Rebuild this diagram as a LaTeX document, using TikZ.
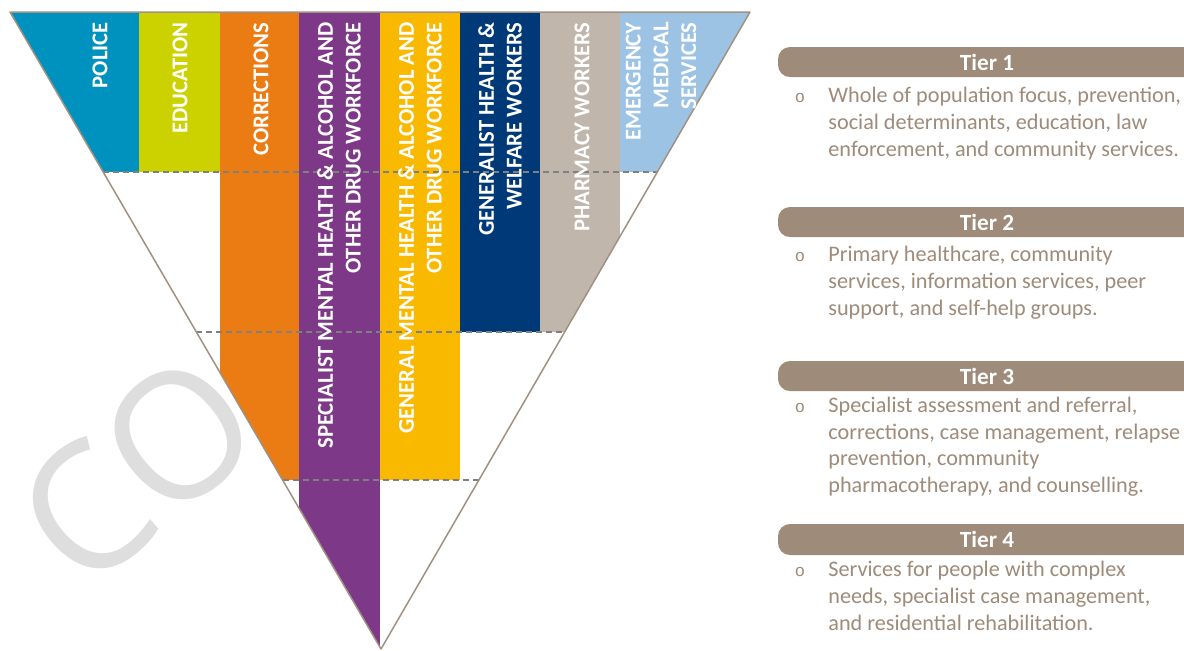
\documentclass[tikz,border=0pt]{standalone}
\usepackage{fontspec}
\setmainfont{Carlito}
\newfontfamily\wmfont{Open Sans}
\newfontfamily\bulfont{Liberation Mono}
\usetikzlibrary{calc}
\definecolor{cpolice}{RGB}{0,146,190}
\definecolor{cedu}{RGB}{204,210,0}
\definecolor{ccorr}{RGB}{235,124,19}
\definecolor{cspec}{RGB}{125,56,136}
\definecolor{cgen}{RGB}{249,185,0}
\definecolor{cgnl}{RGB}{0,57,120}
\definecolor{cpha}{RGB}{192,182,172}
\definecolor{cems}{RGB}{157,195,228}
\definecolor{tierc}{RGB}{158,139,122}
\definecolor{edgec}{RGB}{160,145,130}
\definecolor{dashc}{RGB}{128,128,128}
\definecolor{wmc}{RGB}{222,222,222}
\begin{document}
\begin{tikzpicture}[x=0.5pt,y=-0.5pt,
  colt/.style={rotate=90, anchor=east, align=right, inner sep=0pt, text=white,
    font=\bfseries\fontsize{11.3}{13.9}\selectfont},
  tierbar/.style={fill=tierc, rounded corners=6pt},
  tierlab/.style={inner sep=0pt, text=white, font=\bfseries\fontsize{11.6}{13}\selectfont},
  body/.style={anchor=base west, inner sep=0pt, text=tierc, font=\fontsize{11.1}{13.5}\selectfont},
  bullet/.style={anchor=base, inner sep=0pt, text=tierc, font=\bulfont\fontsize{8.5}{10}\selectfont},
  tierline/.style={draw=dashc, line width=0.75pt, dash pattern=on 3pt off 2pt},
  edge/.style={draw=edgec, line width=0.75pt, line join=round}]
\useasboundingbox (0,0) rectangle (1184,650);
\fill[white] (0,0) rectangle (1184,650);
% watermark
\node[rotate=40, inner sep=0pt, text=wmc, font=\wmfont\fontsize{88}{88}\selectfont] (wm) at (137,470) {CO};
% triangle corners
\coordinate (A) at (10,12);
\coordinate (B) at (750,12);
\coordinate (P) at (381,649);
% columns
\begin{scope}
\clip (A) -- (B) -- (P) -- cycle;
\fill[cpolice] (0,0) rectangle (139,172);
\fill[cedu] (139,0) rectangle (220,172);
\fill[ccorr] (220,0) rectangle (299,480);
\fill[cspec] (299,0) rectangle (380,660);
\fill[cgen] (380,0) rectangle (460,480);
\fill[cgnl] (460,0) rectangle (540,332);
\fill[cpha] (540,0) rectangle (620,332);
\fill[cems] (620,0) rectangle (760,172);
\end{scope}
% tier separators
\coordinate (L1) at ($(A)!0.2512!(P)$);
\coordinate (R1) at ($(B)!0.2512!(P)$);
\coordinate (L2) at ($(A)!0.5024!(P)$);
\coordinate (R2) at ($(B)!0.5024!(P)$);
\coordinate (L3) at ($(A)!0.7347!(P)$);
\coordinate (R3) at ($(B)!0.7347!(P)$);
\draw[tierline] (L1) -- (R1);
\draw[tierline] (L2) -- (R2);
\draw[tierline] (L3) -- (R3);
% outline
\draw[edge] (A) -- (B) -- (P) -- cycle;
% column labels
\node[colt] (tpol) at (100,22) {POLICE};
\node[colt] (tedu) at (180,22) {EDUCATION};
\node[colt] (tcor) at (261,22) {CORRECTIONS};
\node[colt] (tspe) at (339,22) {SPECIALIST MENTAL HEALTH \& ALCOHOL AND\\OTHER DRUG WORKFORCE};
\node[colt] (tgen) at (420,22) {GENERAL MENTAL HEALTH \& ALCOHOL AND\\OTHER DRUG WORKFORCE};
\node[colt] (tgnl) at (500,22) {GENERALIST HEALTH \&\\WELFARE WORKERS};
\node[colt] (tpha) at (582,22) {PHARMACY WORKERS};
\node[colt] (tems) at (661,22) {EMERGENCY\\MEDICAL\\SERVICES};
% tier bars
\fill[tierbar] (1200,47) -- (778,47) -- (778,77) -- (1200,77) -- cycle;
\fill[tierbar] (1200,207) -- (778,207) -- (778,237) -- (1200,237) -- cycle;
\fill[tierbar] (1200,361) -- (778,361) -- (778,391) -- (1200,391) -- cycle;
\fill[tierbar] (1200,524) -- (778,524) -- (778,555) -- (1200,555) -- cycle;
\node[tierlab] (tl1) at (987,62) {Tier 1};
\node[tierlab] (tl2) at (987,222) {Tier 2};
\node[tierlab] (tl3) at (987,376) {Tier 3};
\node[tierlab] (tl4) at (987,539.5) {Tier 4};
% tier 1 text
\node[bullet] (b1) at (800,102) {o};
\node[body] (t1a) at (828,102) {Whole of population focus, prevention,};
\node[body] (t1b) at (828,129) {social determinants, education, law};
\node[body] (t1c) at (828,156) {enforcement, and community services.};
% tier 2 text
\node[bullet] (b2) at (800,261) {o};
\node[body] (t2a) at (828,261) {Primary healthcare, community};
\node[body] (t2b) at (828,288) {services, information services, peer};
\node[body] (t2c) at (828,315) {support, and self-help groups.};
% tier 3 text
\node[bullet] (b3) at (800,412) {o};
\node[body] (t3a) at (828,412) {Specialist assessment and referral,};
\node[body] (t3b) at (828,439) {corrections, case management, relapse};
\node[body] (t3c) at (828,465) {prevention, community};
\node[body] (t3d) at (828,492) {pharmacotherapy, and counselling.};
% tier 4 text
\node[bullet] (b4) at (800,576) {o};
\node[body] (t4a) at (828,576) {Services for people with complex};
\node[body] (t4b) at (828,603) {needs, specialist case management,};
\node[body] (t4c) at (828,630) {and residential rehabilitation.};
\end{tikzpicture}
\end{document}
